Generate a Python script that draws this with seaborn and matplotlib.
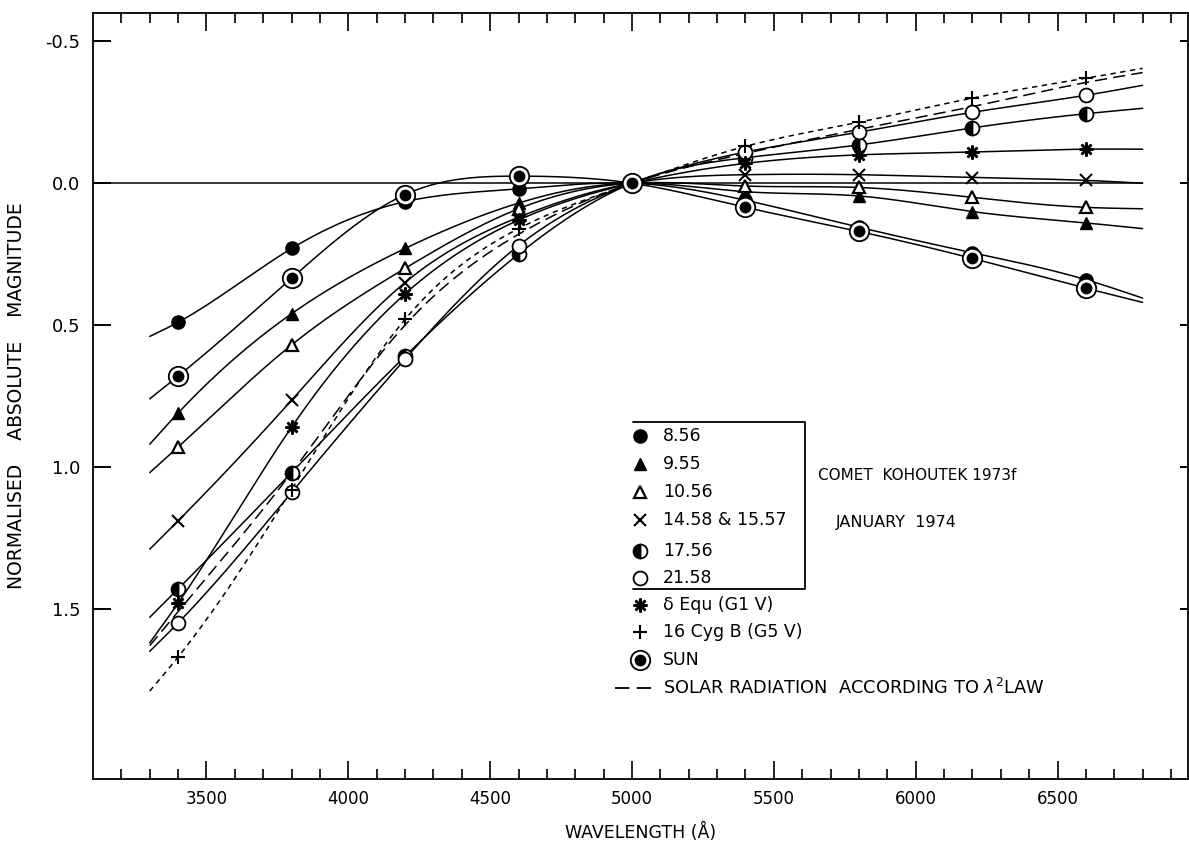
import numpy as np
import pandas as pd
import matplotlib
matplotlib.use("Agg")
import matplotlib.pyplot as plt
import seaborn as sns
from matplotlib.lines import Line2D

# ---------------- data ----------------
wavelengths = [3400, 3800, 4200, 4600, 5000, 5400, 5800, 6200, 6600]
curve_start_wl = 3300
curve_end_wl = 6800

mag_0856 = [0.49, 0.23, 0.065, 0.02, 0.0, 0.06, 0.155, 0.245, 0.34]
mag_0955 = [0.81, 0.46, 0.23, 0.07, 0.0, 0.03, 0.045, 0.10, 0.14]
mag_1056 = [0.93, 0.57, 0.30, 0.09, 0.0, 0.01, 0.015, 0.05, 0.085]
mag_1458 = [1.19, 0.765, 0.35, 0.12, 0.0, -0.03, -0.03, -0.02, -0.01]
mag_1756 = [1.43, 1.02, 0.61, 0.25, 0.0, -0.09, -0.135, -0.195, -0.245]
mag_2158 = [1.55, 1.09, 0.62, 0.22, 0.0, -0.11, -0.18, -0.25, -0.31]
mag_dequ = [1.48, 0.86, 0.39, 0.13, 0.0, -0.07, -0.10, -0.11, -0.12]
mag_16cyg = [1.67, 1.08, 0.48, 0.16, 0.0, -0.13, -0.215, -0.30, -0.37]
mag_sun = [0.68, 0.335, 0.04, -0.025, 0.0, 0.085, 0.17, 0.265, 0.37]
mag_lambda2 = [1.51, 1.02, 0.50, 0.18, 0.0, -0.105, -0.19, -0.27, -0.355]

# curve end values (at 3300 and 6800 A)
start_vals = {"8.56": 0.54, "9.55": 0.92, "10.56": 1.02, "14.58": 1.29, "17.56": 1.53,
              "21.58": 1.65, "dEqu": 1.62, "16Cyg": 1.79, "SUN": 0.76, "lambda2": 1.63}
end_vals = {"8.56": 0.405, "9.55": 0.16, "10.56": 0.09, "14.58": 0.0, "17.56": -0.264,
            "21.58": -0.345, "dEqu": -0.12, "16Cyg": -0.405, "SUN": 0.42, "lambda2": -0.39}

series_vals = {"8.56": mag_0856, "9.55": mag_0955, "10.56": mag_1056, "14.58": mag_1458,
               "17.56": mag_1756, "21.58": mag_2158, "dEqu": mag_dequ, "16Cyg": mag_16cyg,
               "SUN": mag_sun, "lambda2": mag_lambda2}

legend_labels = ["8.56", "9.55", "10.56", "14.58 & 15.57", "17.56", "21.58",
                 "δ Equ (G1 V)", "16 Cyg B (G5 V)", "SUN",
                 "SOLAR RADIATION  ACCORDING TO $\\lambda^{2}$LAW"]

x_major = [3500, 4000, 4500, 5000, 5500, 6000, 6500]
y_major = [-0.5, 0.0, 0.5, 1.0, 1.5]
y_ticklabels = ["-0.5", "0.0", "0.5", "1.0", "1.5"]


def natural_spline(x, y, xs):
    x = np.asarray(x, float)
    y = np.asarray(y, float)
    n = len(x)
    h = np.diff(x)
    A = np.zeros((n, n))
    b = np.zeros(n)
    A[0, 0] = 1.0
    A[-1, -1] = 1.0
    for i in range(1, n - 1):
        A[i, i - 1] = h[i - 1]
        A[i, i] = 2 * (h[i - 1] + h[i])
        A[i, i + 1] = h[i]
        b[i] = 3 * ((y[i + 1] - y[i]) / h[i] - (y[i] - y[i - 1]) / h[i - 1])
    c = np.linalg.solve(A, b)
    bc = (y[1:] - y[:-1]) / h - h * (2 * c[:-1] + c[1:]) / 3
    d = (c[1:] - c[:-1]) / (3 * h)
    idx = np.clip(np.searchsorted(x, xs) - 1, 0, n - 2)
    dx = xs - x[idx]
    return y[idx] + bc[idx] * dx + c[idx] * dx ** 2 + d[idx] * dx ** 3


# ---------------- figure ----------------
sns.set_style("white")
plt.rcParams["font.family"] = ["DejaVu Sans"]
plt.rcParams["text.color"] = "black"
plt.rcParams["axes.labelcolor"] = "black"
plt.rcParams["xtick.color"] = "black"
plt.rcParams["ytick.color"] = "black"
W, H = 1189, 852
fig = plt.figure(figsize=(W / 100, H / 100), dpi=100)
ax = fig.add_axes([93 / W, (H - 779) / H, (1188 - 93) / W, (779 - 13) / H])

xs = np.linspace(curve_start_wl, curve_end_wl, 600)
rows = []
for key, vals in series_vals.items():
    xk = [curve_start_wl] + wavelengths + [curve_end_wl]
    yk = [start_vals[key]] + vals + [end_vals[key]]
    ys = natural_spline(xk, yk, xs)
    rows.append(pd.DataFrame({"wl": xs, "mag": ys, "series": key}))
curves = pd.concat(rows, ignore_index=True)

dash_map = {k: "" for k in series_vals}
dash_map["16Cyg"] = (3.5, 3.0)
dash_map["lambda2"] = (8, 4)
sns.lineplot(data=curves, x="wl", y="mag", hue="series", style="series",
             palette={k: "black" for k in series_vals}, dashes=dash_map,
             legend=False, sort=False, lw=1.1, ax=ax, estimator=None)

# zero reference line
ax.hlines(0.0, 3100, curve_end_wl, color="black", lw=1.1)

# marker styles
mstyle = {
    "8.56": dict(marker="o", ms=9.5, mfc="black", mec="black"),
    "9.55": dict(marker="^", ms=9, mfc="black", mec="black"),
    "10.56": dict(marker="^", ms=8.5, mfc="white", mec="black", mew=1.6),
    "14.58": dict(marker="x", ms=8, mec="black", mew=1.5),
    "17.56": dict(marker="o", ms=10, mfc="black", mfcalt="white", fillstyle="left",
                  mec="black", mew=1.3),
    "21.58": dict(marker="o", ms=10, mfc="white", mec="black", mew=1.3),
    "dEqu": dict(marker=(8, 2, 0), ms=10, mec="black", mew=1.8),
    "16Cyg": dict(marker="+", ms=10, mec="black", mew=1.5),
}
wl_arr = np.array(wavelengths)
mask = wl_arr != 5000
for key, st in mstyle.items():
    ax.plot(wl_arr[mask], np.array(series_vals[key])[mask], ls="none", zorder=4, **st)
ax.plot(wl_arr, mag_sun, ls="none", marker="o", ms=14, mfc="white", mec="black", mew=1.3, zorder=5)
ax.plot(wl_arr, mag_sun, ls="none", marker="o", ms=7.5, mfc="black", mec="black", zorder=6)

# axes
ax.set_xlim(3100, 6960)
ax.set_ylim(2.1, -0.6)
ax.set_xticks(x_major)
ax.set_xticklabels([str(v) for v in x_major], fontsize=12)
ax.set_xticks(np.arange(3200, 6901, 100), minor=True)
ax.set_yticks(y_major)
ax.set_yticklabels(y_ticklabels, fontsize=13)
ax.tick_params(axis="x", which="major", direction="in", length=13, width=1.2,
               top=True, bottom=True, pad=8)
ax.tick_params(axis="x", which="minor", direction="in", length=7, width=1.2,
               top=True, bottom=True)
ax.tick_params(axis="y", which="major", direction="in", length=13, width=1.4,
               left=True, right=False, pad=9)
for sp in ax.spines.values():
    sp.set_linewidth(1.3)
    sp.set_color("black")
ax2 = ax.twinx()
ax2.set_ylim(2.1, -0.6)
ax2.set_yticks(y_major)
ax2.set_yticklabels([])
ax2.tick_params(axis="y", direction="in", length=6, width=1.4)
for sp in ax2.spines.values():
    sp.set_visible(False)

ax.set_xlabel("WAVELENGTH (Å)", fontsize=12.5, labelpad=11)
ax.set_ylabel("NORMALISED    ABSOLUTE    MAGNITUDE", fontsize=13.5, labelpad=14)


def fpos(px, py):
    return px / W, 1 - py / H


# manual legend
rows_y = [436, 464, 492, 520, 551, 578, 605, 632, 660, 688]
mk_x = 640
tx = 663
legend_markers = [mstyle["8.56"], mstyle["9.55"], mstyle["10.56"], mstyle["14.58"],
                  mstyle["17.56"], mstyle["21.58"], mstyle["dEqu"], mstyle["16Cyg"]]
for i, lab in enumerate(legend_labels):
    mx, my = fpos(mk_x, rows_y[i])
    if i < 8:
        st = dict(legend_markers[i])
        fig.add_artist(Line2D([mx], [my], ls="none", transform=fig.transFigure, **st))
        fig.text(tx / W, my, lab, fontsize=12.5, va="center", ha="left")
    elif i == 8:
        fig.add_artist(Line2D([mx], [my], ls="none", marker="o", ms=14, mfc="white",
                              mec="black", mew=1.3, transform=fig.transFigure))
        fig.add_artist(Line2D([mx], [my], ls="none", marker="o", ms=7.5, mfc="black",
                              mec="black", transform=fig.transFigure))
        fig.text(tx / W, my, lab, fontsize=12.5, va="center", ha="left")
    else:
        x0, y0 = fpos(615, rows_y[i])
        x1, _ = fpos(655, rows_y[i])
        fig.add_artist(Line2D([x0, x1], [y0, y0], color="black", lw=1.3, ls=(0, (8, 4)),
                              transform=fig.transFigure))
        fig.text(tx / W, y0, lab, fontsize=12.8, va="center", ha="left")

# legend box (top, right, bottom sides)
bx0, by0 = fpos(633, 422)
bx1, by1 = fpos(805, 589)
fig.add_artist(Line2D([bx0, bx1, bx1, bx0], [by0, by0, by1, by1], color="black", lw=1.3,
                      transform=fig.transFigure))

cx, cy = fpos(818, 476)
fig.text(cx, cy, "COMET  KOHOUTEK 1973f", fontsize=11, va="center", ha="left")
jx, jy = fpos(836, 522)
fig.text(jx, jy, "JANUARY  1974", fontsize=11.5, va="center", ha="left")

fig.savefig("out.png", dpi=100, facecolor="white")
